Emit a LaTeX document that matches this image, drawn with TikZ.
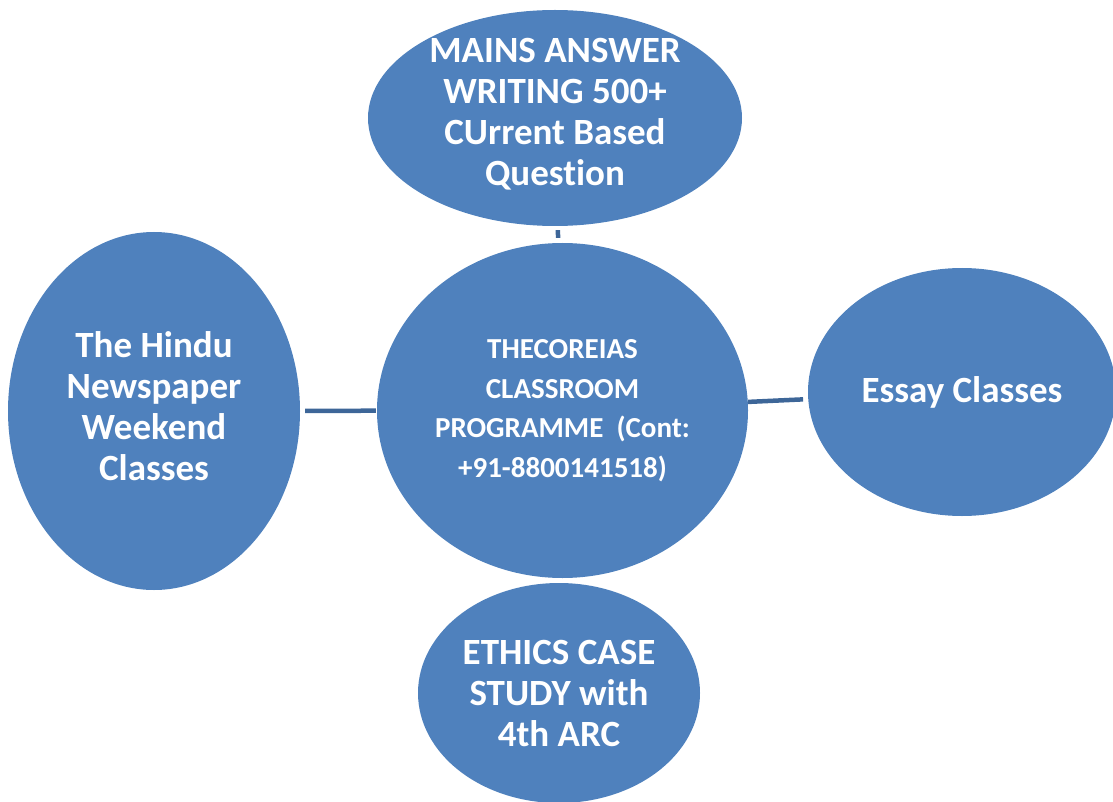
\documentclass[tikz,border=0pt]{standalone}
\usepackage{fontspec}
\setmainfont{Carlito}[RawFeature={-liga}]
\usetikzlibrary{shapes.geometric}
\definecolor{bubble}{HTML}{4F81BD}
\definecolor{link}{HTML}{3D6698}
\tikzset{
  bubble/.style={ellipse, fill=bubble, draw=none, inner sep=0pt},
  btext/.style={text=white, align=center, inner sep=0pt, font=\bfseries\fontsize{37}{41}\selectfont},
  htext/.style={btext, font=\bfseries\fontsize{29}{39.5}\selectfont},
  link/.style={draw=link, line width=4.5pt}
}
\begin{document}
\begin{tikzpicture}[x=1pt,y=-1pt]
\useasboundingbox (0,0) rectangle (1113,802);
\clip (0,0) rectangle (1113,802);
\node[bubble, minimum width=374pt, minimum height=216pt,
  label={[btext, yshift=4pt]center:{MAINS ANSWER\\WRITING 500+\\CUrrent Based\\Question}}] (top) at (555,118) {};
\node[bubble, minimum width=371pt, minimum height=335pt,
  label={[htext]center:{THECOREIAS\\CLASSROOM\\PROGRAMME~~(Cont:\\+91-8800141518)}}] (hub) at (562.5,410.5) {};
\node[bubble, minimum width=292pt, minimum height=358pt,
  label={[btext, yshift=5pt]center:{The Hindu\\Newspaper\\Weekend\\Classes}}] (left) at (154,411) {};
\node[bubble, minimum width=308pt, minimum height=248pt,
  label={[btext]center:{Essay Classes}}] (right) at (962,392) {};
\node[bubble, minimum width=282pt, minimum height=220pt,
  label={[btext]center:{ETHICS CASE\\STUDY with\\4th ARC}}] (bottom) at (559,693) {};
\draw[link, shorten <=5pt, shorten >=1pt] (left) -- (hub);
\draw[link, shorten >=5pt] (hub) -- (right);
\draw[link, shorten <=4pt, shorten >=5pt] (top) -- (hub);
\end{tikzpicture}
\end{document}
